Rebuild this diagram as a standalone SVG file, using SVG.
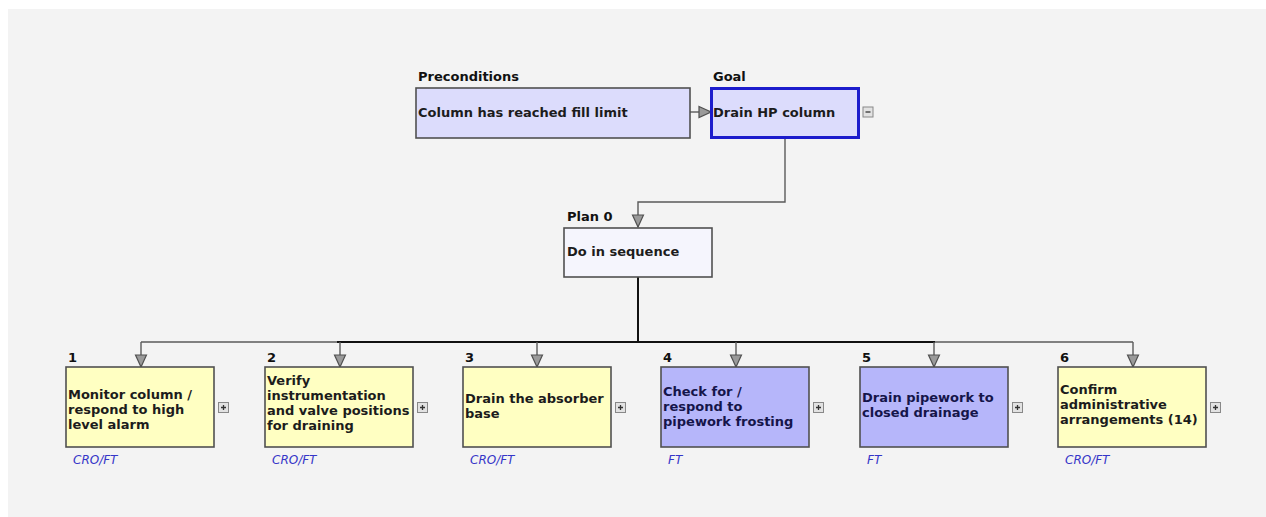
<svg xmlns="http://www.w3.org/2000/svg" width="1266" height="517" viewBox="0 0 1266 517">
<style>
.t{font-family:"DejaVu Sans","Liberation Sans",sans-serif;font-weight:bold;font-size:13px;fill:#1c1c1c}
.tb{fill:#15154a}
.lab{font-family:"DejaVu Sans","Liberation Sans",sans-serif;font-weight:bold;font-size:13px;fill:#111}
.r{font-family:"DejaVu Sans","Liberation Sans",sans-serif;font-style:italic;font-size:12px;fill:#3535c8}
.box{stroke:#505050;stroke-width:1.6}
.y{fill:#ffffc2}
.b{fill:#b6b6fa}
.btn{fill:#e2e2e2;stroke:#888;stroke-width:1}
.sg{stroke:#333;stroke-width:1.3}
.con{fill:none;stroke:#5a5a5a;stroke-width:1.4}
.bus{fill:none;stroke:#111;stroke-width:2}
</style>
<defs>
<marker id="ah" markerWidth="14" markerHeight="14" refX="13" refY="7" orient="auto" markerUnits="userSpaceOnUse">
<path d="M1,1.5 L13,7 L1,12.5 Z" fill="#9a9a9a" stroke="#505050" stroke-width="1.2"/>
</marker>
<g id="plus"><rect x="0.5" y="0.5" width="10" height="10" class="btn"/><path d="M3,5.5 H8 M5.5,3 V8" class="sg"/></g>
</defs>
<rect x="0" y="0" width="1266" height="517" fill="#ffffff"/>
<rect x="8" y="9" width="1258" height="508" fill="#f3f3f3"/>

<g id="connectors">
<path d="M690,112 H711" class="con" marker-end="url(#ah)"/>
<path d="M785,138 V202 H638 V227" class="con" marker-end="url(#ah)"/>
<path d="M638,277 V342" class="bus"/>
<path d="M141,342 H337" class="con"/>
<path d="M337,342 H935" class="bus"/>
<path d="M935,342 H1133" class="con"/>
<path d="M141,342 V367" class="con" marker-end="url(#ah)"/>
<path d="M340,342 V367" class="con" marker-end="url(#ah)"/>
<path d="M537,342 V367" class="con" marker-end="url(#ah)"/>
<path d="M736,342 V367" class="con" marker-end="url(#ah)"/>
<path d="M934,342 V367" class="con" marker-end="url(#ah)"/>
<path d="M1133,342 V367" class="con" marker-end="url(#ah)"/>
</g>

<g id="preconditions">
<text x="418" y="81" class="lab">Preconditions</text>
<rect x="416" y="88" width="274" height="50" fill="#dcdcfc" class="box"/>
<text x="418" y="117" class="t">Column has reached fill limit</text>
</g>

<g id="goal">
<text x="713" y="81" class="lab">Goal</text>
<rect x="711.5" y="88.5" width="147" height="49" fill="#dcdcfc" stroke="#1c1ccc" stroke-width="3"/>
<text x="713" y="117" class="t">Drain HP column</text>
<rect x="863" y="107" width="10" height="10" class="btn"/><path d="M865.5,112 H870.5" class="sg"/>
</g>

<g id="plan0">
<text x="567" y="221" class="lab">Plan 0</text>
<rect x="564" y="228" width="148" height="49" fill="#f5f5fd" class="box"/>
<text x="567" y="256" class="t">Do in sequence</text>
</g>

<g id="task1">
<text x="68" y="362" class="lab">1</text>
<rect x="66" y="367" width="148" height="80" class="box y"/>
<text class="t"><tspan x="68" y="399">Monitor column /</tspan><tspan x="68" y="414">respond to high</tspan><tspan x="68" y="429">level alarm</tspan></text>
<use href="#plus" x="218" y="402"/>
<text x="73" y="464" class="r">CRO/FT</text>
</g>

<g id="task2">
<text x="267" y="362" class="lab">2</text>
<rect x="265" y="367" width="148" height="80" class="box y"/>
<text class="t"><tspan x="267" y="385">Verify</tspan><tspan x="267" y="400">instrumentation</tspan><tspan x="267" y="415">and valve positions</tspan><tspan x="267" y="430">for draining</tspan></text>
<use href="#plus" x="417" y="402"/>
<text x="272" y="464" class="r">CRO/FT</text>
</g>

<g id="task3">
<text x="465" y="362" class="lab">3</text>
<rect x="463" y="367" width="148" height="80" class="box y"/>
<text class="t"><tspan x="465" y="403">Drain the absorber</tspan><tspan x="465" y="418">base</tspan></text>
<use href="#plus" x="615" y="402"/>
<text x="470" y="464" class="r">CRO/FT</text>
</g>

<g id="task4">
<text x="663" y="362" class="lab">4</text>
<rect x="661" y="367" width="148" height="80" class="box b"/>
<text class="t tb"><tspan x="663" y="396">Check for /</tspan><tspan x="663" y="411">respond to</tspan><tspan x="663" y="426">pipework frosting</tspan></text>
<use href="#plus" x="813" y="402"/>
<text x="668" y="464" class="r">FT</text>
</g>

<g id="task5">
<text x="862" y="362" class="lab">5</text>
<rect x="860" y="367" width="148" height="80" class="box b"/>
<text class="t tb"><tspan x="862" y="402">Drain pipework to</tspan><tspan x="862" y="417">closed drainage</tspan></text>
<use href="#plus" x="1012" y="402"/>
<text x="867" y="464" class="r">FT</text>
</g>

<g id="task6">
<text x="1060" y="362" class="lab">6</text>
<rect x="1058" y="367" width="148" height="80" class="box y"/>
<text class="t"><tspan x="1060" y="394">Confirm</tspan><tspan x="1060" y="409">administrative</tspan><tspan x="1060" y="424">arrangements (14)</tspan></text>
<use href="#plus" x="1210" y="402"/>
<text x="1065" y="464" class="r">CRO/FT</text>
</g>
</svg>
